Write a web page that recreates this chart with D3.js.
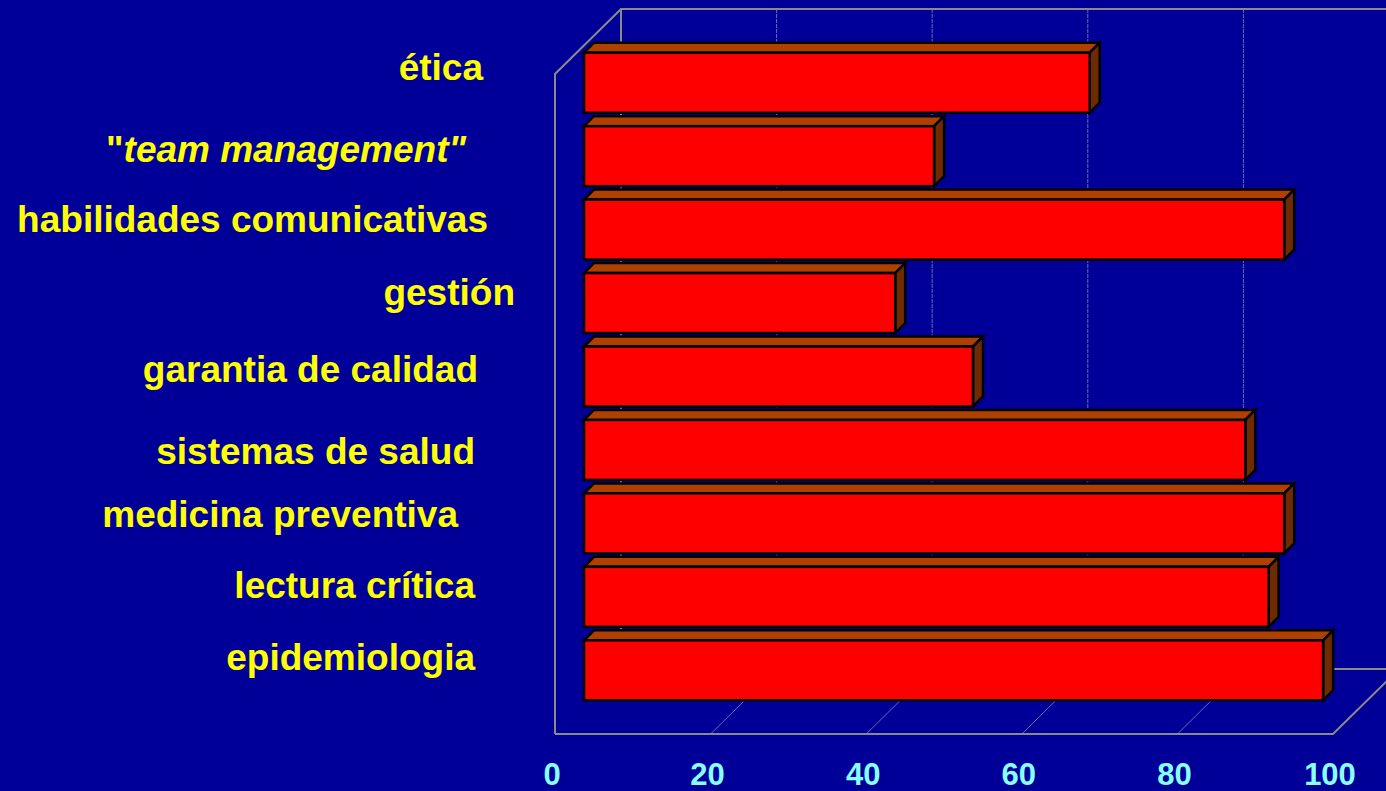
<!DOCTYPE html>
<html>
<head>
<meta charset="utf-8">
<script src="https://cdn.jsdelivr.net/npm/d3@7"></script>
<style>
	html, body { margin: 0; padding: 0; background: #000099; overflow: hidden; }
	svg { display: block; }
</style>
</head>
<body>
<script>
// data, top to bottom as shown
var categories = ['ética', '"team management"', 'habilidades comunicativas', 'gestión',
	'garantia de calidad', 'sistemas de salud', 'medicina preventiva', 'lectura crítica', 'epidemiologia'];
var values = [65, 45, 90, 40, 50, 85, 90, 88, 95];
var ticks = [0, 20, 40, 60, 80, 100];

// label placement (right edge, baseline vs bar centre) - labels in the slide are not aligned
var labelRight = [483, 466, 488, 515, 478, 475, 458, 475, 475];
var labelDy = [-3, 6, 2, 2, 5, 14, 4, 1, 0];

var width = 1386, height = 791;
var depth = { x: 66, y: -65 },        // floor depth in px
	barShift = { x: 29, y: -27 },     // bar front face offset from front plane
	barDepth = { x: 10, y: -10 };

var svg = d3.select('body').append('svg')
	.attr('width', width)
	.attr('height', height);

// front plane scales
var x = d3.scaleLinear().domain([0, 100]).range([555, 1333]);
var y = d3.scaleBand().domain(categories).range([73, 734])
	.paddingInner(0.183).paddingOuter(0.0915);

var floorY = 734, wallTop = 9;
var grey = '#8a8a8a';

// back wall grid lines
svg.append('g').selectAll('line')
	.data(ticks.filter(function(d) { return d > 0 && d < 100; }))
	.join('line')
	.attr('x1', function(d) { return x(d) + depth.x; })
	.attr('x2', function(d) { return x(d) + depth.x; })
	.attr('y1', wallTop)
	.attr('y2', floorY + depth.y)
	.attr('stroke', '#6a6ab0')
	.attr('stroke-width', 1)
	.attr('stroke-dasharray', '4,1');

// floor grid lines
svg.append('g').selectAll('line')
	.data(ticks.filter(function(d) { return d > 0 && d < 100; }))
	.join('line')
	.attr('x1', function(d) { return x(d); })
	.attr('x2', function(d) { return x(d) + depth.x; })
	.attr('y1', floorY)
	.attr('y2', floorY + depth.y)
	.attr('stroke', '#6a6ab0')
	.attr('stroke-width', 1);

// walls and floor outline
var frame = svg.append('g')
	.attr('fill', 'none')
	.attr('stroke', grey)
	.attr('stroke-width', 2);
frame.append('path')
	.attr('d', d3.line()([
		[x(0), floorY], [x(0), wallTop - depth.y], [x(0) + depth.x, wallTop], [width + 10, wallTop]
	]));
frame.append('line')
	.attr('x1', x(0) + depth.x).attr('x2', x(0) + depth.x)
	.attr('y1', wallTop).attr('y2', floorY + depth.y);
frame.append('path')
	.attr('d', d3.line()([
		[x(0), floorY], [x(100), floorY], [x(100) + depth.x, floorY + depth.y]
	]));
frame.append('line')
	.attr('x1', x(0) + depth.x).attr('x2', x(100) + depth.x)
	.attr('y1', floorY + depth.y).attr('y2', floorY + depth.y);

// bars
var bars = svg.append('g').selectAll('g')
	.data(categories.map(function(c, i) { return { cat: c, value: values[i] }; }))
	.join('g')
	.attr('stroke', '#000')
	.attr('stroke-width', 2.5)
	.attr('stroke-linejoin', 'miter');

function face(d) {
	var x0 = x(0) + barShift.x,
		x1 = x(d.value) + barShift.x,
		y0 = y(d.cat) + barShift.y,
		y1 = y0 + y.bandwidth();
	return { x0: x0, x1: x1, y0: y0, y1: y1 };
}

bars.append('path') // top
	.attr('fill', '#b04000')
	.attr('d', function(d) {
		var f = face(d);
		return d3.line()([[f.x0, f.y0], [f.x0 + barDepth.x, f.y0 + barDepth.y],
			[f.x1 + barDepth.x, f.y0 + barDepth.y], [f.x1, f.y0]]) + 'Z';
	});
bars.append('path') // side
	.attr('fill', '#6e2a00')
	.attr('d', function(d) {
		var f = face(d);
		return d3.line()([[f.x1, f.y0], [f.x1 + barDepth.x, f.y0 + barDepth.y],
			[f.x1 + barDepth.x, f.y1 + barDepth.y], [f.x1, f.y1]]) + 'Z';
	});
bars.append('rect') // front
	.attr('fill', '#ff0000')
	.attr('x', function(d) { return face(d).x0; })
	.attr('y', function(d) { return face(d).y0; })
	.attr('width', function(d) { return face(d).x1 - face(d).x0; })
	.attr('height', y.bandwidth());

// category labels
var labels = svg.append('g')
	.attr('font-family', '"Liberation Sans", Arial, sans-serif')
	.attr('font-weight', 'bold')
	.attr('font-size', 37)
	.attr('fill', '#ffff00')
	.attr('text-anchor', 'end')
	.selectAll('text')
	.data(categories)
	.join('text')
	.attr('x', function(d, i) { return labelRight[i]; })
	.attr('y', function(d, i) { return y(d) + barShift.y + y.bandwidth() / 2 + labelDy[i]; });

labels.each(function(d) {
	var t = d3.select(this);
	if (d.charAt(0) === '"') {
		t.append('tspan').text('"');
		t.append('tspan').attr('font-style', 'italic').text(d.slice(1));
	} else {
		t.text(d);
	}
});

// value axis labels
svg.append('g')
	.attr('font-family', '"Liberation Sans", Arial, sans-serif')
	.attr('font-weight', 'bold')
	.attr('font-size', 31)
	.attr('fill', '#88ffff')
	.attr('text-anchor', 'middle')
	.selectAll('text')
	.data(ticks)
	.join('text')
	.attr('x', function(d) { return x(d) - 3; })
	.attr('y', 785)
	.text(function(d) { return d; });
</script>
</body>
</html>
